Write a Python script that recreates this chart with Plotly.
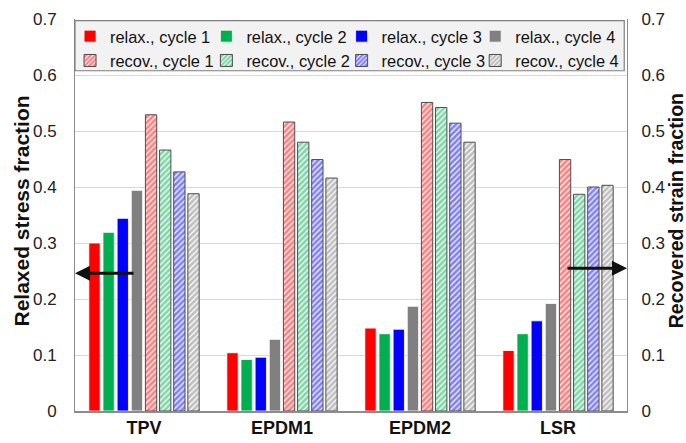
import plotly.graph_objects as go

# Materials tested and cycle labels
materials = ["TPV", "EPDM1", "EPDM2", "LSR"]
cycles = ["cycle 1", "cycle 2", "cycle 3", "cycle 4"]
cycle_colors = ["#ff0000", "#00b050", "#0000ff", "#808080"]

# Relaxed stress fraction per cycle (left axis)
relax_c1 = [0.300, 0.104, 0.148, 0.108]
relax_c2 = [0.319, 0.092, 0.138, 0.138]
relax_c3 = [0.344, 0.096, 0.146, 0.161]
relax_c4 = [0.394, 0.128, 0.187, 0.192]

# Recovered strain fraction per cycle (right axis)
recov_c1 = [0.529, 0.516, 0.551, 0.449]
recov_c2 = [0.466, 0.480, 0.542, 0.387]
recov_c3 = [0.427, 0.449, 0.514, 0.400]
recov_c4 = [0.388, 0.416, 0.480, 0.403]

# Arrow heights pointing each family of bars to its own axis
relax_arrow_y = 0.246
recov_arrow_y = 0.255

relax_sets = [relax_c1, relax_c2, relax_c3, relax_c4]
recov_sets = [recov_c1, recov_c2, recov_c3, recov_c4]

FONT = "Liberation Sans, Arial, sans-serif"
legend_ids = ["legend", "legend2", "legend3", "legend4"]
legend_x = [-0.009, 0.238, 0.483, 0.725]  # one legend column per cycle

fig = go.Figure()

for i, (vals, col) in enumerate(zip(relax_sets, cycle_colors)):
    fig.add_trace(go.Bar(
        x=materials, y=vals, name=f"relax., {cycles[i]}",
        marker=dict(color=col, line=dict(color="white", width=0.8)),
        offsetgroup=f"relax{i}", alignmentgroup="all", yaxis="y",
        legend=legend_ids[i],
    ))

for i, (vals, col) in enumerate(zip(recov_sets, cycle_colors)):
    fig.add_trace(go.Bar(
        x=materials, y=vals, name=f"recov., {cycles[i]}",
        marker=dict(
            color="white",
            line=dict(color="#4d4d4d", width=1),
            pattern=dict(shape="/", fgcolor=col, bgcolor="white",
                         size=4, solidity=0.7, fillmode="overlay"),
        ),
        offsetgroup=f"recov{i}", alignmentgroup="all", yaxis="y2",
        legend=legend_ids[i],
    ))

axis_common = dict(
    range=[0, 0.7], dtick=0.1, tick0=0,
    tickfont=dict(family=FONT, size=17, color="#222222"),
    showline=True, linecolor="#8c8c8c", linewidth=1,
    ticks="", zeroline=False, automargin=False,
)

legend_style = dict(
    orientation="v", y=1.0, xanchor="left", yanchor="top",
    bgcolor="rgba(0,0,0,0)", borderwidth=0,
    font=dict(family=FONT, size=16.4, color="#111111"),
    tracegroupgap=0, itemclick=False, itemdoubleclick=False,
)

fig.update_layout(
    template="none",
    width=686, height=443,
    margin=dict(l=75, r=59, t=19, b=32, pad=0),
    paper_bgcolor="white", plot_bgcolor="white",
    barmode="group", bargap=0.18, bargroupgap=0.2,
    font=dict(family=FONT, color="#222222"),
    xaxis=dict(
        range=[-0.5, 3.5],
        tickfont=dict(family=FONT, size=18, color="#111111", weight="bold"),
        showline=True, linecolor="#8c8c8c", linewidth=1.5,
        ticks="", showgrid=False, automargin=False,
        ticklabelstandoff=0,
    ),
    yaxis=dict(
        **axis_common,
        showgrid=True, gridcolor="#d9d9d9", gridwidth=1,
        ticklabelstandoff=14,
    ),
    yaxis2=dict(
        **axis_common,
        overlaying="y", side="right", showgrid=False,
        ticklabelstandoff=10,
    ),
    showlegend=True,
)
for lid, lx in zip(legend_ids, legend_x):
    fig.update_layout({lid: dict(legend_style, x=lx)})

# Shaded frame behind the legend columns
fig.add_shape(
    type="rect", xref="paper", yref="paper",
    x0=0.0, x1=0.995, y0=0.868, y1=0.996,
    fillcolor="#f2f2f2", line=dict(color="#7f7f7f", width=1.2), layer="above",
)

# Axis titles
fig.add_annotation(
    text="Relaxed stress fraction", textangle=-90,
    xref="paper", yref="paper", x=-0.097, y=0.51,
    xanchor="center", yanchor="middle", showarrow=False,
    font=dict(family=FONT, size=21, color="#111111", weight="bold"),
)
fig.add_annotation(
    text="Recovered strain fraction", textangle=-90,
    xref="paper", yref="paper", x=1.089, y=0.51,
    xanchor="center", yanchor="middle", showarrow=False,
    font=dict(family=FONT, size=19.5, color="#111111", weight="bold"),
)

# Arrows indicating which axis each bar family belongs to
fig.add_annotation(
    x=-0.5, y=relax_arrow_y, xref="x", yref="y",
    ax=-0.065, ay=relax_arrow_y, axref="x", ayref="y",
    text="", showarrow=True, arrowhead=2, arrowsize=1,
    arrowwidth=3, arrowcolor="#111111", standoff=0,
)
fig.add_annotation(
    x=3.5, y=recov_arrow_y, xref="x", yref="y2",
    ax=3.058, ay=recov_arrow_y, axref="x", ayref="y2",
    text="", showarrow=True, arrowhead=2, arrowsize=1,
    arrowwidth=3, arrowcolor="#111111", standoff=0,
)

fig.write_html("out.html")
